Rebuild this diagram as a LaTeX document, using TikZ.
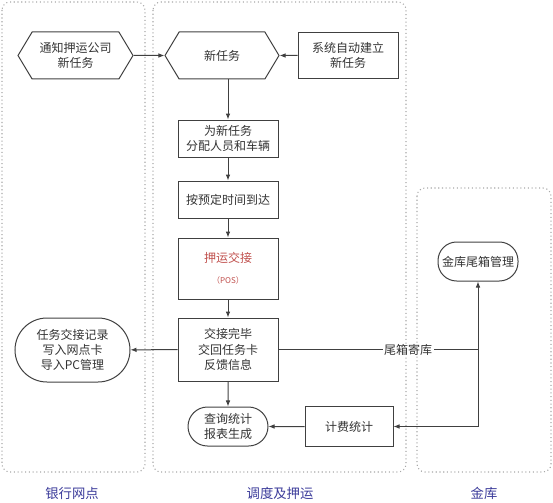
\documentclass[tikz,border=0pt]{standalone}
\usepackage{fontspec}
\setmainfont{Noto Sans CJK SC}
\usetikzlibrary{shapes.symbols,shapes.misc,arrows.meta}
\definecolor{ln}{HTML}{404040}
\definecolor{lanec}{HTML}{A8A8A8}
\definecolor{lblc}{HTML}{3B3B9A}
\definecolor{posc}{HTML}{C0504D}
\definecolor{txt}{HTML}{333333}
\begin{document}
\begin{tikzpicture}[x=0.75pt,y=-0.75pt,
  font=\fontsize{9}{11.5}\selectfont,
  every node/.style={text=txt, align=center, inner sep=0pt},
  box/.style={draw=ln, line width=0.75pt, rectangle},
  hex/.style={draw=ln, line width=0.75pt, signal, signal to=west and east, signal pointer angle=118},
  pill/.style={draw=ln, line width=0.75pt, rounded rectangle},
  flatpill/.style={draw=ln, line width=0.75pt, rectangle, rounded corners=14pt},
  arr/.style={draw=ln, line width=0.75pt, -{Latex[length=4.5pt,width=3.5pt]}},
  plain/.style={draw=ln, line width=0.75pt},
  laneb/.style={draw=lanec, dotted, line width=0.8pt, rounded corners=6pt},
  lanelbl/.style={text=lblc, font=\fontsize{10}{12}\selectfont}]
\useasboundingbox (0,0) rectangle (553,503);
% lanes
\draw[laneb] (2,2) rectangle (145,472);
\draw[laneb] (153,2) rectangle (406,472);
\draw[laneb] (417,188) rectangle (551,472);
\node[lanelbl] (lb1) at (72,493) {银行网点};
\node[lanelbl] (lb2) at (280,493) {调度及押运};
\node[lanelbl] (lb3) at (484,493) {金库};
% nodes
\node[hex, minimum width=86.25pt, minimum height=35.25pt] (notify) at (75.5,55.5) {通知押运公司\\新任务};
\node[hex, minimum width=85.5pt, minimum height=35.25pt] (newtask) at (222,55.5) {新任务};
\node[box, minimum width=75pt, minimum height=34.5pt] (sys) at (348,55.5) {系统自动建立\\新任务};
\node[box, minimum width=75pt, minimum height=27.75pt] (r1) at (228,138.5) {为新任务\\分配人员和车辆};
\node[box, minimum width=75pt, minimum height=27.75pt] (r2) at (228,199.5) {按预定时间到达};
\node[box, minimum width=75pt, minimum height=45.75pt] (r3) at (228,268.5) {\textcolor{posc}{押运交接}\\[4pt]\textcolor{posc}{\fontsize{6}{7}\selectfont（POS）}};
\node[box, minimum width=75pt, minimum height=47.25pt] (r4) at (228,349.5) {交接完毕\\交回任务卡\\反馈信息};
\node[pill, minimum width=60pt, minimum height=29.25pt] (q) at (228,426.5) {查询统计\\报表生成};
\node[box, minimum width=66pt, minimum height=30pt] (fee) at (349,426.5) {计费统计};
\node[flatpill, minimum width=60pt, minimum height=29.25pt] (vault) at (478,261.5) {金库尾箱管理};
\node[pill, minimum width=86.25pt, minimum height=48pt] (record) at (72.5,350) {任务交接记录\\写入网点卡\\导入PC管理};
\coordinate (j) at (478,349.5);
% connectors
\draw[arr] (notify) -- (newtask);
\draw[arr] (sys) -- (newtask);
\draw[arr] (newtask.south -| r1.north) -- (r1);
\draw[arr] (r1) -- (r2);
\draw[arr] (r2) -- (r3);
\draw[arr] (r3) -- (r4);
\draw[arr] (r4) -- (q);
\draw[arr] (r4) -- (record);
\draw[plain] (r4.east) -- node[pos=0.65, fill=white, inner xsep=1pt] (lbltx) {尾箱寄库} (j);
\draw[arr] (j) -- (j |- vault.south);
\draw[arr] (j) |- (fee.east);
\draw[arr] (fee) -- (q);
\end{tikzpicture}
\end{document}
